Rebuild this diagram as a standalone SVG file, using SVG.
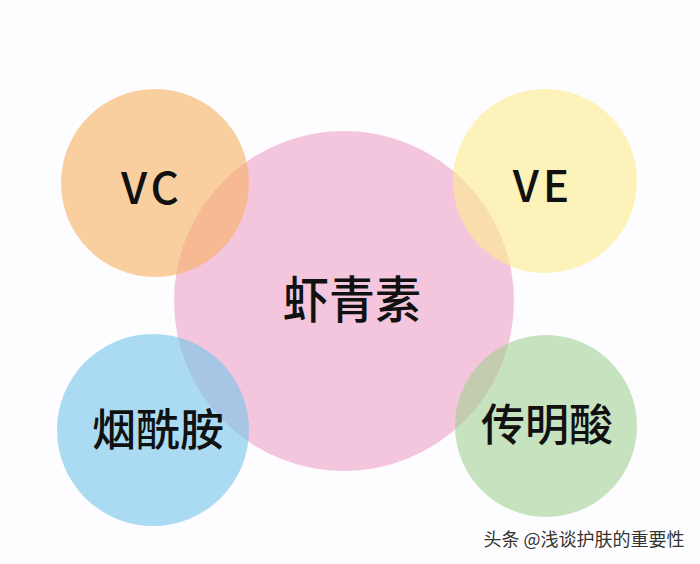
<svg xmlns="http://www.w3.org/2000/svg" width="700" height="564" viewBox="0 0 700 564">
<style>
.lbl{font-family:"Noto Sans CJK SC","Noto Sans",sans-serif;font-weight:500;fill:#111;text-anchor:middle}
.small{opacity:0.6}
.wm{font-family:"Noto Sans CJK SC",sans-serif;font-size:18px;fill:#333;stroke:#fff;stroke-width:2.5px;paint-order:stroke;text-anchor:middle}
</style>
<rect width="700" height="564" fill="#fdfcfe"/>
<g id="center">
<circle cx="344" cy="301" r="170" fill="#f4c6dd"/>
</g>
<g id="vc">
<circle class="small" cx="155" cy="183" r="94" fill="#f7b060"/>
<text class="lbl" x="152" y="204" font-size="44" letter-spacing="4">VC</text>
</g>
<g id="ve">
<circle class="small" cx="545" cy="181" r="92" fill="#fdec8c"/>
<text class="lbl" x="543" y="202" font-size="44" letter-spacing="4">VE</text>
</g>
<g id="niacinamide">
<circle class="small" cx="153" cy="430" r="96" fill="#73c4eb"/>
<text class="lbl" x="158" y="446" font-size="44">烟酰胺</text>
</g>
<g id="tranexamic">
<circle class="small" cx="546" cy="426" r="91" fill="#a3d092"/>
<text class="lbl" x="547" y="441" font-size="44">传明酸</text>
</g>
<g id="astaxanthin">
<text class="lbl" x="352" y="318" font-size="46" transform="translate(352 318) scale(1 1.08) translate(-352 -318)">虾青素</text>
</g>
<g id="connectors"></g>
<text class="wm" x="584" y="546">头条 @浅谈护肤的重要性</text>
</svg>
